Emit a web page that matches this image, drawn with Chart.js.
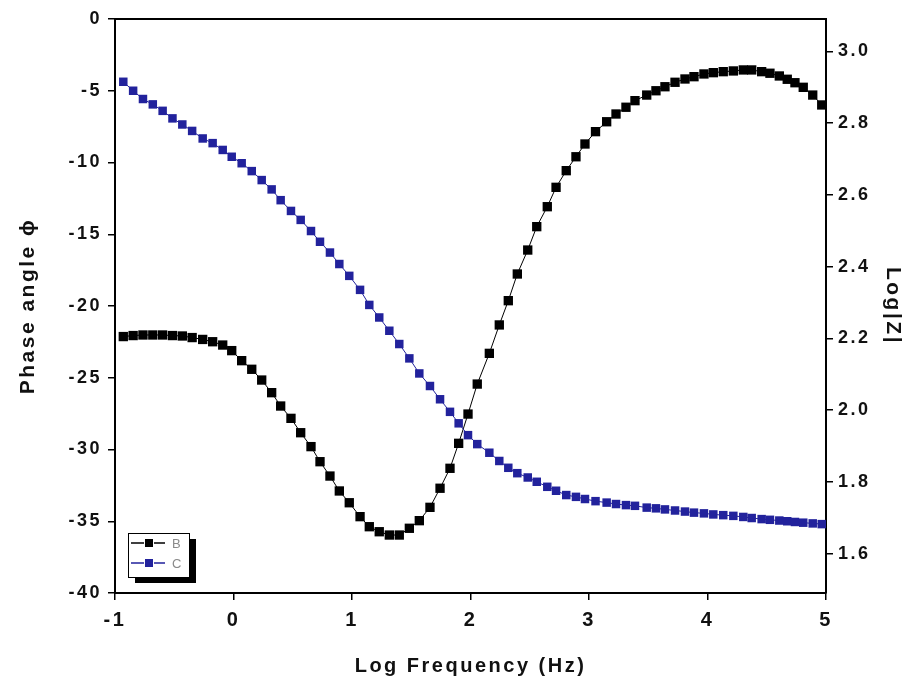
<!DOCTYPE html>
<html>
<head>
<meta charset="utf-8">
<script src="https://cdn.jsdelivr.net/npm/chart.js@4.4.1/dist/chart.umd.min.js"></script>
<style>
html,body{margin:0;padding:0;background:#fff;}
#wrap{width:919px;height:685px;}
canvas{display:block;}
</style>
</head>
<body>
<div id="wrap"><canvas id="c" width="919" height="685"></canvas></div>
<script>
// ---- data ----
const logFreq = [
  -0.930,-0.847,-0.764,-0.681,-0.598,-0.515,-0.432,-0.349,-0.260,-0.176,
  -0.091,-0.015, 0.069, 0.154, 0.238, 0.322, 0.398, 0.485, 0.567, 0.654,
   0.730, 0.814, 0.893, 0.977, 1.068, 1.146, 1.230, 1.315, 1.399, 1.484,
   1.568, 1.658, 1.743, 1.827, 1.900, 1.979, 2.057, 2.159, 2.243, 2.319,
   2.395, 2.483, 2.559, 2.648, 2.722, 2.808, 2.890, 2.966, 3.055, 3.149,
   3.228, 3.312, 3.388, 3.487, 3.565, 3.641, 3.726, 3.810, 3.886, 3.970,
   4.049, 4.133, 4.218, 4.302, 4.373, 4.457, 4.527, 4.606, 4.673, 4.738,
   4.808, 4.888, 4.964
];
const phaseB = [
  -22.13,-22.06,-22.02,-22.02,-22.02,-22.06,-22.09,-22.20,-22.33,-22.49,
  -22.72,-23.11,-23.81,-24.41,-25.16,-26.04,-26.97,-27.83,-28.83,-29.80,
  -30.85,-31.85,-32.89,-33.71,-34.68,-35.38,-35.73,-35.96,-35.96,-35.49,
  -34.96,-34.03,-32.70,-31.31,-29.57,-27.53,-25.44,-23.30,-21.32,-19.63,
  -17.77,-16.10,-14.47,-13.08,-11.73,-10.57, -9.60, -8.71, -7.85, -7.16,
   -6.62, -6.15, -5.69, -5.30, -5.00, -4.72, -4.41, -4.18, -4.02, -3.83,
   -3.74, -3.67, -3.62, -3.55, -3.55, -3.67, -3.78, -3.97, -4.20, -4.44,
   -4.76, -5.30, -5.99
];
const logZC = [
  2.915,2.890,2.867,2.852,2.834,2.813,2.796,2.778,2.757,2.744,
  2.725,2.706,2.688,2.666,2.641,2.615,2.585,2.555,2.530,2.499,
  2.469,2.439,2.407,2.374,2.335,2.293,2.258,2.221,2.184,2.144,
  2.102,2.067,2.030,1.995,1.963,1.930,1.905,1.881,1.858,1.839,
  1.824,1.812,1.800,1.786,1.775,1.763,1.758,1.752,1.746,1.742,
  1.738,1.735,1.733,1.728,1.726,1.723,1.720,1.717,1.714,1.712,
  1.709,1.707,1.705,1.702,1.699,1.696,1.694,1.692,1.690,1.688,
  1.686,1.684,1.682
];
const seriesLabels = ['B', 'C'];
const xTicks = [-1, 0, 1, 2, 3, 4, 5];
const phaseTicks = [0, -5, -10, -15, -20, -25, -30, -35, -40];
const logZTicks = [1.6, 1.8, 2.0, 2.2, 2.4, 2.6, 2.8, 3.0];

// ---- styling ----
const INK = '#111';
const BLUE = '#22229c';
const FONT = '"Liberation Sans", Arial, sans-serif';
const NARROW = '"Liberation Sans Narrow", "Liberation Sans", Arial, sans-serif';

const toPts = (ys) => logFreq.map((x, i) => ({x: x, y: ys[i]}));
const fixTicks = (arr) => (scale) => { scale.ticks = arr.map(v => ({value: v})); };

const spacing = {
  id: 'spacing',
  beforeDraw(chart) { chart.ctx.letterSpacing = '2.5px'; }
};
const frame = {
  id: 'frame',
  afterDraw(chart) {
    const {ctx, chartArea: a} = chart;
    ctx.save();
    ctx.strokeStyle = '#000';
    ctx.lineWidth = 2;
    ctx.beginPath();
    ctx.moveTo(a.left - 1, a.top);
    ctx.lineTo(a.right + 1, a.top);
    ctx.stroke();
    ctx.restore();
  }
};
const legendBox = {
  id: 'legendBox',
  afterDatasetsDraw(chart) {
    const {ctx, chartArea: a} = chart;
    const x0 = a.left + 13, y0 = a.bottom - 60, w = 61, h = 44;
    ctx.save();
    ctx.letterSpacing = '0px';
    ctx.fillStyle = '#000';
    ctx.fillRect(x0 + 7, y0 + 6, w, h);
    ctx.fillStyle = '#fff';
    ctx.fillRect(x0, y0, w, h);
    ctx.strokeStyle = '#000';
    ctx.lineWidth = 1;
    ctx.strokeRect(x0 + 0.5, y0 + 0.5, w, h);
    chart.data.datasets.forEach((ds, i) => {
      const cy = y0 + 10 + i * 20;
      ctx.strokeStyle = ds.borderColor;
      ctx.lineWidth = 1.5;
      ctx.beginPath();
      ctx.moveTo(x0 + 3, cy); ctx.lineTo(x0 + 16, cy);
      ctx.moveTo(x0 + 26, cy); ctx.lineTo(x0 + 37, cy);
      ctx.stroke();
      ctx.fillStyle = ds.pointBackgroundColor;
      ctx.fillRect(x0 + 17, cy - 4, 8, 8);
      ctx.fillStyle = '#8a8a8a';
      ctx.font = '13px ' + FONT;
      ctx.textBaseline = 'middle';
      ctx.textAlign = 'left';
      ctx.fillText(ds.label, x0 + 44, cy + 1);
    });
    ctx.restore();
  }
};

const axisGrid = {display: true, drawOnChartArea: false, drawTicks: true, tickLength: 7, color: '#000', lineWidth: 1.5};
const axisBorder = {display: true, color: '#000', width: 2};

new Chart(document.getElementById('c'), {
  type: 'scatter',
  data: {
    datasets: [
      {
        label: seriesLabels[0],
        data: toPts(phaseB),
        yAxisID: 'y',
        showLine: true,
        borderColor: '#000',
        borderWidth: 1,
        pointStyle: 'rect',
        pointRadius: 6.6,
        pointBackgroundColor: '#000',
        pointBorderColor: '#000',
        pointBorderWidth: 0,
        order: 1
      },
      {
        label: seriesLabels[1],
        data: toPts(logZC),
        yAxisID: 'y1',
        showLine: true,
        borderColor: BLUE,
        borderWidth: 1,
        pointStyle: 'rect',
        pointRadius: 6,
        pointBackgroundColor: BLUE,
        pointBorderColor: BLUE,
        pointBorderWidth: 0,
        order: 0
      }
    ]
  },
  options: {
    responsive: false,
    animation: false,
    events: [],
    layout: {padding: {top: 19, left: 0, right: 0, bottom: 0}},
    plugins: {legend: {display: false}, tooltip: {enabled: false}},
    scales: {
      x: {
        type: 'linear', position: 'bottom', min: -1, max: 5,
        afterBuildTicks: fixTicks(xTicks),
        afterFit: (s) => { s.height = 92; },
        grid: axisGrid, border: axisBorder,
        ticks: {color: INK, padding: 8, maxRotation: 0, font: {family: NARROW, size: 20, weight: 'bold'}},
        title: {display: true, text: 'Log Frequency (Hz)', color: INK, padding: {top: 0, bottom: 7},
                font: {family: FONT, size: 20, weight: 'bold'}}
      },
      y: {
        type: 'linear', position: 'left', min: -40, max: 0,
        afterBuildTicks: fixTicks(phaseTicks),
        afterFit: (s) => { s.width = 115; },
        grid: axisGrid, border: axisBorder,
        ticks: {color: INK, padding: 6, font: {family: FONT, size: 18, weight: 'bold'}},
        title: {display: true, text: 'Phase angle ϕ', color: INK, padding: {top: 16, bottom: 0},
                font: {family: FONT, size: 21, weight: 'bold'}}
      },
      y1: {
        type: 'linear', position: 'right', min: 1.49, max: 3.09,
        afterBuildTicks: fixTicks(logZTicks),
        afterFit: (s) => { s.width = 93; },
        grid: axisGrid, border: axisBorder,
        ticks: {color: INK, padding: 5, font: {family: FONT, size: 18, weight: 'bold'},
                callback: (v) => Number(v).toFixed(1)},
        title: {display: true, text: 'Log|Z|', color: INK, padding: {top: 14, bottom: 0},
                font: {family: FONT, size: 21, weight: 'bold'}}
      }
    }
  },
  plugins: [spacing, frame, legendBox]
});
</script>
</body>
</html>
